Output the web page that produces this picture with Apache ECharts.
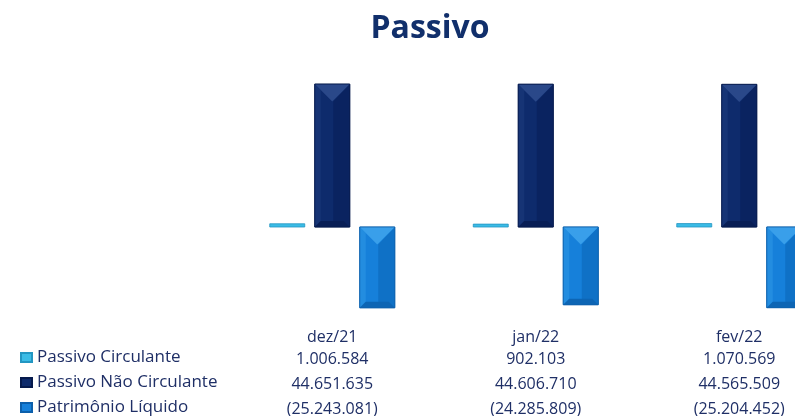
<!DOCTYPE html>
<html>
<head>
<meta charset="utf-8">
<script src="https://cdn.jsdelivr.net/npm/echarts@6/dist/echarts.min.js"></script>
<style>
html,body{margin:0;padding:0;background:#fff;}
#chart{width:795px;height:416px;}
</style>
</head>
<body>
<div id="chart"></div>
<script>
var categories = ['dez/21', 'jan/22', 'fev/22'];
var seriesNames = ['Passivo Circulante', 'Passivo Não Circulante', 'Patrimônio Líquido'];
var passivoCirculante = [1006584, 902103, 1070569];
var passivoNaoCirculante = [44651635, 44606710, 44565509];
var patrimonioLiquido = [-25243081, -24285809, -25204452];

function fmt(v) {
  var s = Math.abs(v).toString().replace(/\B(?=(\d{3})+(?!\d))/g, '.');
  return v < 0 ? '(' + s + ')' : s;
}

var BAR_W = 35, BAR_STEP = 45;
var palettes = [
  {base: '#3bbce6', top: '#63d0f2', left: '#4cc6ec', right: '#2ba8d6', bottom: '#2496c4', border: '#2396c2'},
  {base: '#0e2b6c', top: '#2a4889', left: '#163475', right: '#0a2360', bottom: '#081e55', border: '#061a4c'},
  {base: '#1680da', top: '#399fea', left: '#238de0', right: '#0f71c6', bottom: '#0d65b4', border: '#0c5fab'}
];

function makeRender(sIdx) {
  var p = palettes[sIdx];
  return function (params, api) {
    var cat = api.value(0), val = api.value(1);
    var c0 = api.coord([cat, 0]);
    var c1 = api.coord([cat, val]);
    var xc = c0[0] + (sIdx - 1) * BAR_STEP;
    var L = xc - BAR_W / 2, R = xc + BAR_W / 2;
    var T = Math.min(c0[1], c1[1]), B = Math.max(c0[1], c1[1]);
    var h = B - T;
    var children = [];
    children.push({type: 'rect', shape: {x: L, y: T, width: BAR_W, height: h},
      style: {fill: p.base, stroke: p.border, lineWidth: 0.8}});
    if (h > 12) {
      var tb = Math.min(BAR_W / 2, h / 2);
      var bb = Math.min(6, h / 4);
      var ls = 6;
      children.push({type: 'polygon', shape: {points: [[L, T], [L + ls, T + ls], [L + ls, B - bb], [L, B]]},
        style: {fill: p.left}});
      children.push({type: 'polygon', shape: {points: [[R, T], [xc + 1, T + tb], [xc + 1, B - bb], [R, B]]},
        style: {fill: p.right}});
      children.push({type: 'polygon', shape: {points: [[L, B], [R, B], [R - bb, B - bb], [L + bb, B - bb]]},
        style: {fill: p.bottom}});
      children.push({type: 'polygon', shape: {points: [[L, T], [R, T], [xc, T + tb]]},
        style: {fill: p.top}});
      children.push({type: 'rect', shape: {x: L, y: T, width: BAR_W, height: h},
        style: {fill: 'none', stroke: p.border, lineWidth: 0.8}});
    }
    return {type: 'group', children: children};
  };
}

function toData(arr) {
  return arr.map(function (v, i) { return [i, v]; });
}

var seriesData = [passivoCirculante, passivoNaoCirculante, patrimonioLiquido];
var chart = echarts.init(document.getElementById('chart'));
var option = {
  backgroundColor: '#ffffff',
  animation: false,
  color: palettes.map(function (p) { return p.base; }),
  title: {
    text: 'Passivo',
    left: 425,
    top: 8,
    textAlign: 'center',
    textStyle: {fontFamily: 'Open Sans', fontWeight: 'bold', fontSize: 32, color: '#112f6b'}
  },
  legend: {
    orient: 'vertical',
    left: 20,
    top: 349,
    width: 260,
    height: 80,
    padding: 0,
    itemWidth: 11,
    itemHeight: 9,
    itemGap: 8,
    icon: 'rect',
    data: seriesNames,
    textStyle: {fontFamily: 'Open Sans', fontSize: 17, color: '#1f2f66'}
  },
  grid: {left: 230.5, width: 610.5, top: 67, height: 256, containLabel: false, outerBoundsMode: 'none'},
  xAxis: {
    type: 'category',
    data: categories,
    axisLine: {show: false},
    axisTick: {show: false},
    splitLine: {show: false},
    axisLabel: {
      margin: 5,
      interval: 0,
      formatter: function (val, idx) {
        return '{a|' + val + '}\n{b|' + fmt(passivoCirculante[idx]) + '}\n{b|' + fmt(passivoNaoCirculante[idx]) + '}\n{b|' + fmt(patrimonioLiquido[idx]) + '}';
      },
      rich: {
        a: {fontFamily: 'Open Sans', fontSize: 16, color: '#1f2f66', lineHeight: 19, height: 19},
        b: {fontFamily: 'Open Sans', fontSize: 16, color: '#1f2f66', lineHeight: 25, height: 25}
      }
    }
  },
  yAxis: {
    type: 'value',
    min: -30000000,
    max: 50000000,
    show: false,
    splitLine: {show: false}
  },
  series: seriesData.map(function (arr, i) {
    return {
      name: seriesNames[i],
      type: 'custom',
      renderItem: makeRender(i),
      encode: {x: 0, y: 1},
      itemStyle: {color: palettes[i].base, borderColor: palettes[i].border, borderWidth: 0.8},
      clip: false,
      data: toData(arr)
    };
  })
};
chart.setOption(option);
</script>
</body>
</html>
